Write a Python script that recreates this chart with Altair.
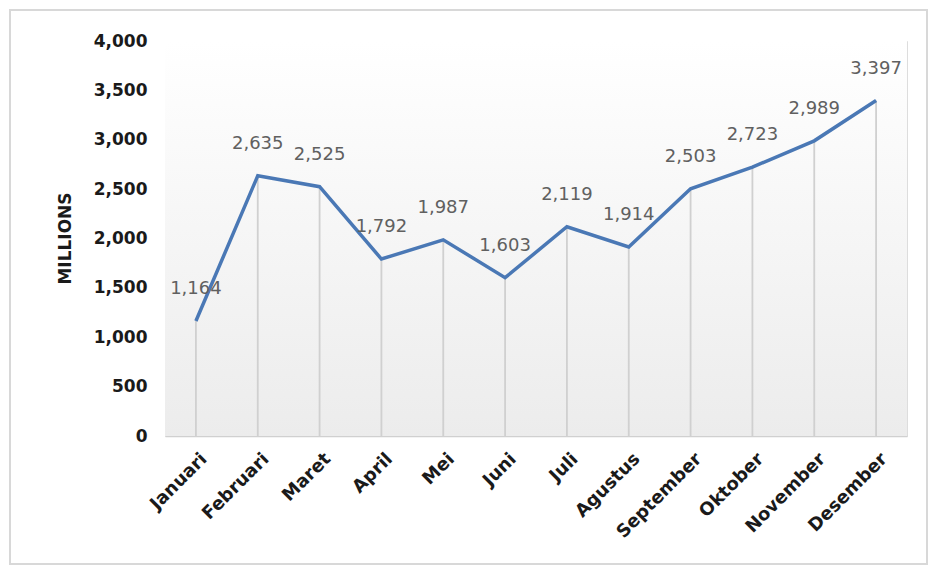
import altair as alt
import pandas as pd

months = ["Januari", "Februari", "Maret", "April", "Mei", "Juni", "Juli",
          "Agustus", "September", "Oktober", "November", "Desember"]
values = [1164, 2635, 2525, 1792, 1987, 1603, 2119, 1914, 2503, 2723, 2989, 3397]
labels = ["1,164", "2,635", "2,525", "1,792", "1,987", "1,603", "2,119",
          "1,914", "2,503", "2,723", "2,989", "3,397"]
y_ticks = [0, 500, 1000, 1500, 2000, 2500, 3000, 3500, 4000]

df = pd.DataFrame({"month": months, "value": values, "label": labels})

W, H = 742, 395

x_enc = alt.X("month:N", sort=months, scale=alt.Scale(type="point", padding=0.5),
              axis=alt.Axis(title=None, labelAngle=-45, labelAlign="right",
                            labelBaseline="middle", labelFont="DejaVu Sans",
                            labelFontWeight="bold", labelFontSize=18,
                            labelColor="#1a1a1a", labelPadding=20, labelOffset=8,
                            domain=True, domainColor="#d0d0d0", domainWidth=1.5,
                            ticks=False, grid=False))
y_scale = alt.Scale(domain=[0, 4000], nice=False)
y_enc = alt.Y("value:Q", scale=y_scale,
              axis=alt.Axis(title="MILLIONS", values=y_ticks, format=",.0f",
                            labelFont="DejaVu Sans", labelFontWeight="bold",
                            labelFontSize=17, labelColor="#1a1a1a",
                            labelPadding=18, domain=False, ticks=False, grid=False,
                            titleFont="DejaVu Sans", titleFontWeight="bold",
                            titleFontSize=17, titleColor="#1a1a1a",
                            titleX=-100, titleY=197, titleAngle=-90,
                            titleAlign="center", titleBaseline="middle"))

base = alt.Chart(df)

background = base.mark_rect(
    color=alt.Gradient(gradient="linear", x1=0, x2=0, y1=0, y2=1,
                       stops=[alt.GradientStop(color="#ffffff", offset=0),
                              alt.GradientStop(color="#ececec", offset=1)])
).encode(x=alt.value(0), x2=alt.value(W), y=alt.value(0), y2=alt.value(H))

border = base.mark_rect(fill=None, stroke="#d8d8d8", strokeWidth=1.5, clip=False).encode(
    x=alt.value(-155), x2=alt.value(W + 20), y=alt.value(-31), y2=alt.value(H + 128))

drops = base.mark_rule(color="#d0d0d0", strokeWidth=1.8).encode(
    x=x_enc, y=y_enc, y2=alt.datum(0))

line = base.mark_line(color="#4a78b5", strokeWidth=3.5).encode(x=x_enc, y=y_enc)

text = base.mark_text(dy=-32, font="DejaVu Sans", fontSize=18, color="#606060").encode(
    x=x_enc, y=y_enc, text="label:N")

chart = alt.layer(border, background, drops, line, text).properties(
    width=W, height=H,
    padding={"left": 165, "top": 41, "right": 23, "bottom": 135},
    autosize=alt.AutoSizeParams(type="none"),
).configure_view(stroke=None).configure(background="white")

chart.save("out.html", embed_options={"renderer": "svg", "actions": False})
